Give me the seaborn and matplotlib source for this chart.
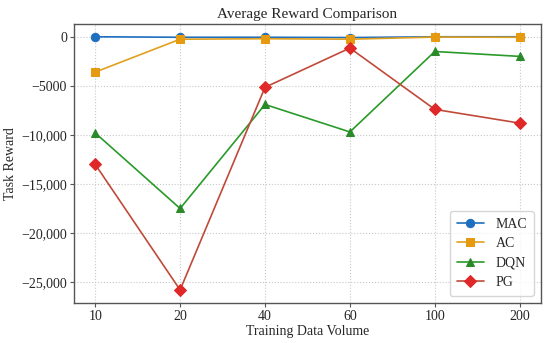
import pandas as pd
import matplotlib.pyplot as plt
import seaborn as sns

# -----------------------------
# Data
# -----------------------------
volumes = ["10", "20", "40", "60", "100", "200"]
mac = [0, -50, -50, -80, 0, 0]
ac = [-3600, -250, -200, -250, -30, -50]
dqn = [-9800, -17500, -6900, -9700, -1500, -2000]
pg = [-13000, -25800, -5150, -1150, -7400, -8800]

y_ticks = [0, -5000, -10000, -15000, -20000, -25000]
y_labels = ["0", "\u22125000", "\u221210,000", "\u221215,000", "\u221220,000", "\u221225,000"]

df = pd.DataFrame({"MAC": mac, "AC": ac, "DQN": dqn, "PG": pg})
df["pos"] = range(len(volumes))

# -----------------------------
# Styling
# -----------------------------
sns.set_style("whitegrid", {"grid.linestyle": ":", "grid.color": "#c8c8c8",
                            "axes.edgecolor": "#555555"})
plt.rcParams["font.family"] = ["Liberation Serif", "DejaVu Serif"]

styles = {
    "MAC": dict(color="#1f6fbf", marker="o", mfc="#1f6fbf"),
    "AC": dict(color="#e0a020", marker="s", mfc="#e69a10"),
    "DQN": dict(color="#2a9a2a", marker="^", mfc="#2a8a2a"),
    "PG": dict(color="#c04a3a", marker="D", mfc="#e02828"),
}

fig = plt.figure(figsize=(5.5, 3.43), dpi=100)
ax = fig.add_axes([0.1345, 0.1175, 0.849, 0.8125])

for name, st in styles.items():
    sns.lineplot(data=df, x="pos", y=name, ax=ax, label=name,
                 color=st["color"], marker=st["marker"],
                 markerfacecolor=st["mfc"], markeredgecolor=st["mfc"],
                 markersize=6, linewidth=1.2)

ax.set_xlim(-0.25, 5.25)
ax.set_ylim(-27100, 1300)
ax.set_xticks(range(len(volumes)))
ax.set_xticklabels(volumes)
ax.set_yticks(y_ticks)
ax.set_yticklabels(y_labels)
ax.tick_params(axis="both", labelsize=10, length=3, pad=2, color="#555555", left=True, bottom=True)
for s in ax.spines.values():
    s.set_linewidth(1.0)

ax.set_title("Average Reward Comparison", fontsize=11, pad=4)
ax.set_xlabel("Training Data Volume", fontsize=10, labelpad=2)
ax.set_ylabel("Task Reward", fontsize=10, labelpad=3)
ax.legend(loc="lower right", fontsize=10, frameon=True, edgecolor="#cccccc",
          handlelength=2.0, borderpad=0.5, labelspacing=0.45)

fig.savefig("out.png", dpi=100)
